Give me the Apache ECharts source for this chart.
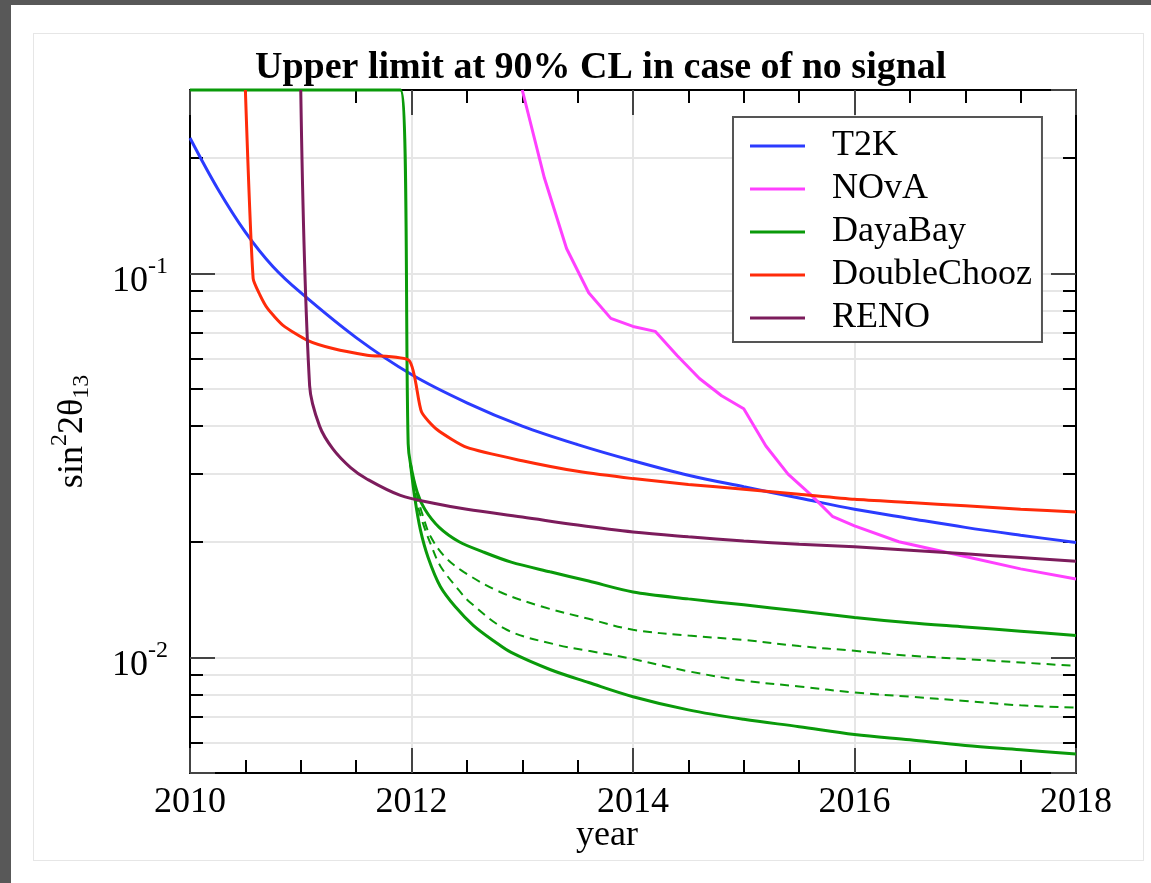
<!DOCTYPE html>
<html>
<head>
<meta charset="utf-8">
<script src="https://cdn.jsdelivr.net/npm/echarts@6/dist/echarts.min.js"></script>
<style>
html, body { margin: 0; padding: 0; background: #585858; }
#paper { position: absolute; left: 11px; top: 5px; width: 1140px; height: 878px; background: #fff; }
#frame { position: absolute; left: 33px; top: 33px; width: 1109px; height: 826px; border: 1px solid #e6e6e6; }
#chart { position: absolute; left: 0; top: 0; width: 1151px; height: 883px; }
</style>
</head>
<body>
<div id="paper"></div>
<div id="frame"></div>
<div id="chart"></div>
<script>
// 数据：[年份, sin^2 2θ13 上限]
var t2k = [[2010, 0.225], [2010.25, 0.166], [2010.5, 0.128], [2010.75, 0.104], [2011, 0.089], [2011.5, 0.068],
    [2012, 0.0545], [2012.5, 0.046], [2013, 0.040], [2013.5, 0.0358], [2014, 0.0325], [2014.5, 0.0298],
    [2015, 0.0278], [2015.5, 0.026], [2016, 0.0243], [2016.5, 0.023], [2017, 0.0218], [2017.5, 0.0208], [2018, 0.0199]];
var nova = [[2013.0, 0.3], [2013.2, 0.177], [2013.4, 0.116], [2013.6, 0.089], [2013.8, 0.0763], [2014.0, 0.0727],
    [2014.2, 0.0706], [2014.4, 0.061], [2014.6, 0.0532], [2014.8, 0.048], [2015.0, 0.0444], [2015.2, 0.0355],
    [2015.4, 0.030], [2015.6, 0.0266], [2015.8, 0.0233], [2016.0, 0.022], [2016.4, 0.020], [2017, 0.0183],
    [2017.5, 0.017], [2018, 0.016]];
var dayabay = [[2010, 0.3], [2011.9, 0.3], [2011.97, 0.036], [2011.99, 0.032], [2012.05, 0.027], [2012.12, 0.0243],
    [2012.25, 0.0218], [2012.43, 0.0200], [2012.65, 0.0188], [2012.9, 0.0177], [2013.25, 0.0167], [2013.6, 0.0158],
    [2014, 0.0148], [2014.5, 0.0142], [2015, 0.0137], [2015.5, 0.0132], [2016, 0.0127], [2016.5, 0.0123],
    [2017, 0.012], [2017.5, 0.0117], [2018, 0.0114]];
var dayabayLow = [[2011.99, 0.032], [2012.03, 0.026], [2012.08, 0.0215], [2012.15, 0.0182], [2012.26, 0.0153],
    [2012.4, 0.0135], [2012.56, 0.0121], [2012.75, 0.011], [2012.9, 0.0103], [2013.25, 0.0093], [2013.6, 0.0086],
    [2014, 0.0079], [2014.5, 0.0073], [2015, 0.0069], [2015.5, 0.0066], [2016, 0.0063], [2016.5, 0.0061],
    [2017, 0.0059], [2017.5, 0.00575], [2018, 0.0056]];
var dayabayDash1 = [[2011.99, 0.032], [2012.05, 0.0265], [2012.1, 0.0235], [2012.17, 0.0207], [2012.3, 0.0183],
    [2012.47, 0.0167], [2012.8, 0.0148], [2013.2, 0.0135], [2013.6, 0.0126], [2014, 0.0118], [2014.5, 0.0114],
    [2015, 0.0111], [2015.5, 0.0107], [2016, 0.0104], [2016.5, 0.0101], [2017, 0.0099], [2017.5, 0.0097], [2018, 0.0095]];
var dayabayDash2 = [[2011.99, 0.032], [2012.04, 0.026], [2012.1, 0.0225], [2012.18, 0.0195], [2012.26, 0.0173],
    [2012.4, 0.0153], [2012.53, 0.0139], [2012.86, 0.0118], [2013.3, 0.0108], [2013.6, 0.0104], [2014, 0.0099],
    [2014.5, 0.0092], [2015, 0.0087], [2015.5, 0.0084], [2016, 0.0081], [2016.5, 0.0079], [2017, 0.0077],
    [2017.5, 0.0075], [2018, 0.0074]];
var doubleChooz = [[2010.5, 0.3], [2010.57, 0.097], [2010.63, 0.088], [2010.7, 0.081], [2010.84, 0.0732],
    [2011.06, 0.0669], [2011.29, 0.0637], [2011.6, 0.0612], [2011.98, 0.0592], [2012.09, 0.0436], [2012.23, 0.0392],
    [2012.5, 0.0352], [2013, 0.0325], [2013.5, 0.0305], [2014, 0.0292], [2014.5, 0.0282], [2015, 0.0274],
    [2015.5, 0.0266], [2016, 0.0258], [2016.5, 0.0253], [2017, 0.0248], [2017.5, 0.0243], [2018, 0.0239]];
var reno = [[2011.0, 0.3], [2011.08, 0.051], [2011.17, 0.040], [2011.29, 0.0349], [2011.45, 0.0312], [2011.6, 0.0291],
    [2011.9, 0.0264], [2012.2, 0.0252], [2012.5, 0.0243], [2013, 0.0232], [2013.5, 0.0221], [2014, 0.0212],
    [2014.5, 0.0206], [2015, 0.0201], [2015.5, 0.0197], [2016, 0.0194], [2016.5, 0.019], [2017, 0.0186],
    [2017.5, 0.0182], [2018, 0.0178]];

var legendNames = ['T2K', 'NOvA', 'DayaBay', 'DoubleChooz', 'RENO'];

var font = 'Liberation Serif, Times New Roman, serif';

var myChart = echarts.init(document.getElementById('chart'));

function line(name, data, color, width, dashed, smooth) {
    return {
        name: name,
        type: 'line',
        data: data,
        symbol: 'none',
        smooth: smooth,
        clip: false,
        itemStyle: { color: color },
        lineStyle: { color: color, width: width, type: dashed ? [9, 6] : 'solid' },
        silent: true
    };
}

var xTicks = {
    type: 'value',
    min: 2010,
    max: 2018,
    interval: 2,
    axisLine: { show: true, onZero: false, lineStyle: { color: '#000', width: 2 } },
    axisTick: { show: true, inside: true, length: 25, lineStyle: { color: '#444', width: 2 } },
    minorTick: { show: true, splitNumber: 4, length: 13, lineStyle: { color: '#000', width: 2 } }
};

var yTicks = {
    type: 'log',
    logBase: 10,
    min: 0.005,
    max: 0.3,
    axisLine: { show: true, onZero: false, lineStyle: { color: '#000', width: 2 } },
    axisTick: { show: true, inside: true, length: 25, lineStyle: { color: '#444', width: 2 } },
    minorTick: { show: true, splitNumber: 9, length: 13, lineStyle: { color: '#000', width: 2 } }
};

option = {
    animation: false,
    title: {
        text: 'Upper limit at 90% CL in case of no signal',
        left: 250,
        top: 44,
        textStyle: { fontFamily: font, fontWeight: 'bold', fontSize: 38, color: '#000' }
    },
    grid: { left: 190, right: 75, top: 90, bottom: 110, outerBoundsMode: 'none' },
    legend: {
        data: legendNames,
        orient: 'vertical',
        left: 733,
        top: 117,
        padding: [11, 10, 6, 17],
        icon: 'rect',
        itemWidth: 55,
        itemHeight: 3,
        itemGap: 7,
        borderColor: '#555',
        borderWidth: 2,
        backgroundColor: '#fff',
        selectedMode: false,
        textStyle: { fontFamily: font, fontSize: 36, color: '#000', lineHeight: 36, padding: [0, 0, 0, 22] }
    },
    xAxis: [
        Object.assign({}, xTicks, {
            position: 'bottom',
            splitLine: { show: true, lineStyle: { color: '#e6e6e6', width: 2 } },
            axisLabel: {
                color: '#000', fontFamily: font, fontSize: 36, margin: 12,
                formatter: function (v) { return String(v); }
            },
            name: 'year',
            nameLocation: 'middle',
            nameGap: 45,
            nameMoveOverlap: false,
            nameTextStyle: { color: '#000', fontFamily: font, fontSize: 36, padding: [0, 52, 0, 0] }
        }),
        Object.assign({}, xTicks, {
            position: 'top',
            splitLine: { show: false },
            axisLabel: { show: false }
        })
    ],
    yAxis: [
        Object.assign({}, yTicks, {
            position: 'left',
            splitLine: { show: true, lineStyle: { color: '#e6e6e6', width: 2 } },
            minorSplitLine: { show: true, lineStyle: { color: '#e6e6e6', width: 2 } },
            axisLabel: {
                margin: 22,
                formatter: function (v) {
                    var e = Math.log10(v);
                    if (Math.abs(e - Math.round(e)) > 1e-6) return '';
                    return '{b|10}{s|' + Math.round(e) + '}';
                },
                rich: {
                    b: { fontFamily: font, fontSize: 36, color: '#000', padding: [16, 0, 0, 0] },
                    s: { fontFamily: font, fontSize: 24, color: '#000', padding: [0, 0, 14, 0] }
                }
            },
            name: '{a|sin}{p|2}{a|2θ}{q|13}',
            nameLocation: 'middle',
            nameRotate: 90,
            nameGap: 92,
            nameMoveOverlap: false,
            nameTextStyle: {
                rich: {
                    a: { fontFamily: font, fontSize: 36, color: '#000' },
                    p: { fontFamily: font, fontSize: 24, color: '#000', padding: [0, 0, 26, 0] },
                    q: { fontFamily: font, fontSize: 24, color: '#000', padding: [18, 0, 0, 0] }
                }
            }
        }),
        Object.assign({}, yTicks, {
            position: 'right',
            splitLine: { show: false },
            axisLabel: { show: false }
        })
    ],
    series: [
        line('T2K', t2k, '#2b3bff', 3, false, 0.35),
        line('NOvA', nova, '#ff40ff', 3, false, false),   // NOvA 是折线
        line('DayaBay', dayabay, '#0a9a0a', 3, false, 0.3),
        line('DayaBay low', dayabayLow, '#0a9a0a', 3, false, 0.35),
        line('DayaBay dash 1', dayabayDash1, '#0a9a0a', 2, true, 0.35),
        line('DayaBay dash 2', dayabayDash2, '#0a9a0a', 2, true, 0.35),
        line('DoubleChooz', doubleChooz, '#ff2b0a', 3, false, 0.2),
        line('RENO', reno, '#7c1c5c', 3, false, 0.35)
    ]
};

myChart.setOption(option);
</script>
</body>
</html>
